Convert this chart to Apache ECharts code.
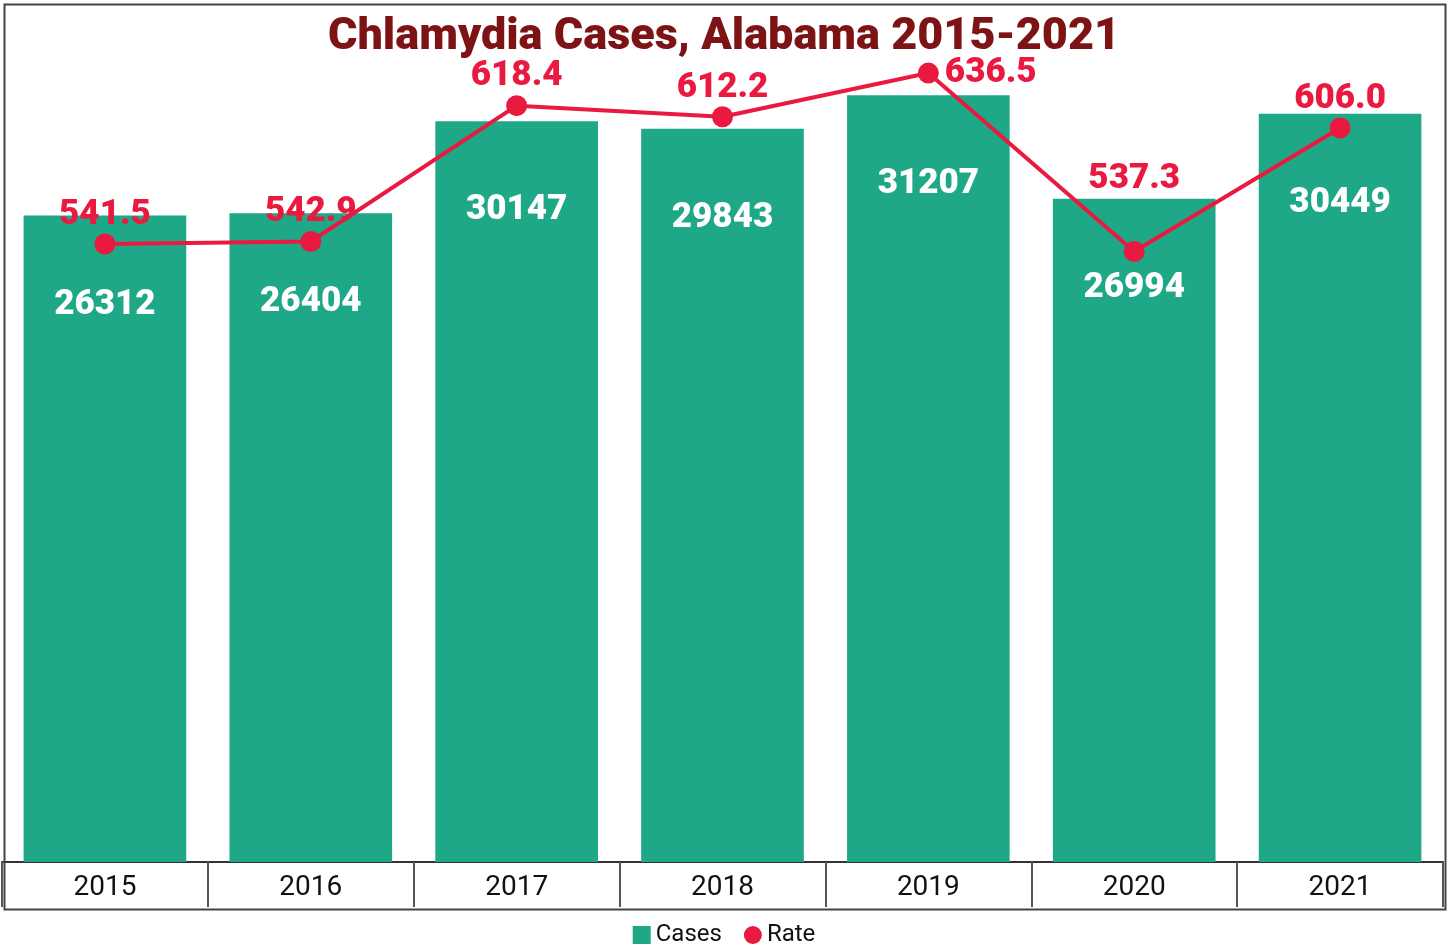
<!DOCTYPE html>
<html>
<head>
<meta charset="utf-8">
<script src="https://cdn.jsdelivr.net/npm/echarts@6/dist/echarts.min.js"></script>
<style>
html, body { margin: 0; padding: 0; background: #fff; }
#chart { width: 1448px; height: 946px; }
</style>
</head>
<body>
<div id="chart"></div>
<script>
// data
var years = ['2015', '2016', '2017', '2018', '2019', '2020', '2021'];
var cases = [26312, 26404, 30147, 29843, 31207, 26994, 30449];
var rates = [541.5, 542.9, 618.4, 612.2, 636.5, 537.3, 606.0];

var green = '#1ea888';
var red = '#ea1940';

var chart = echarts.init(document.getElementById('chart'));

// label placement tweaks for a couple of rate points
var rateData = rates.map(function (v, i) {
    var item = { value: v };
    if (i === 4) {
        item.label = { position: 'right', distance: 6 };
    }
    if (i === 5) {
        item.label = { distance: 44 };
    }
    return item;
});

chart.setOption({
    animation: false,
    title: {
        text: 'Chlamydia Cases, Alabama 2015-2021',
        left: 'center',
        top: 10,
        textStyle: {
            fontFamily: 'Roboto',
            fontWeight: 900,
            fontSize: 45,
            color: '#7d1315'
        }
    },
    legend: {
        top: 918,
        left: 'center',
        itemWidth: 18,
        itemHeight: 18,
        itemGap: 22,
        textStyle: { fontFamily: 'Roboto', fontSize: 24, color: '#111' },
        data: [
            { name: 'Cases', icon: 'rect' },
            { name: 'Rate', icon: 'circle' }
        ]
    },
    grid: {
        left: 2,
        right: 5,
        top: 2,
        bottom: 84,
        containLabel: false
    },
    graphic: [{
        type: 'rect',
        left: 2,
        top: 2,
        shape: { width: 1441, height: 905 },
        style: { fill: 'none', stroke: '#444', lineWidth: 2 },
        z: 100
    }],
    xAxis: {
        type: 'category',
        data: years,
        boundaryGap: true,
        axisLine: { show: true, lineStyle: { color: '#333', width: 2 } },
        axisTick: { show: true, length: 45, lineStyle: { color: '#555', width: 2 } },
        axisLabel: {
            fontFamily: 'Roboto',
            fontSize: 28,
            color: '#111',
            margin: 12
        }
    },
    yAxis: [{
        type: 'value',
        min: 0,
        max: 35000,
        show: false
    }, {
        type: 'value',
        min: 198,
        max: 676,
        show: false
    }],
    series: [{
        name: 'Cases',
        type: 'bar',
        data: cases,
        barWidth: '79%',
        itemStyle: { color: green },
        label: {
            show: true,
            position: 'insideTop',
            distance: 72,
            color: '#fff',
            fontFamily: 'Roboto',
            fontWeight: 900,
            fontSize: 35
        }
    }, {
        name: 'Rate',
        type: 'line',
        yAxisIndex: 1,
        data: rateData,
        symbol: 'circle',
        symbolSize: 21,
        lineStyle: { color: red, width: 4 },
        itemStyle: { color: red },
        label: {
            show: true,
            position: 'top',
            distance: 1,
            color: red,
            fontFamily: 'Roboto',
            fontWeight: 900,
            fontSize: 35,
            formatter: function (p) { return p.value.toFixed(1); }
        },
        z: 5
    }]
});
</script>
</body>
</html>
